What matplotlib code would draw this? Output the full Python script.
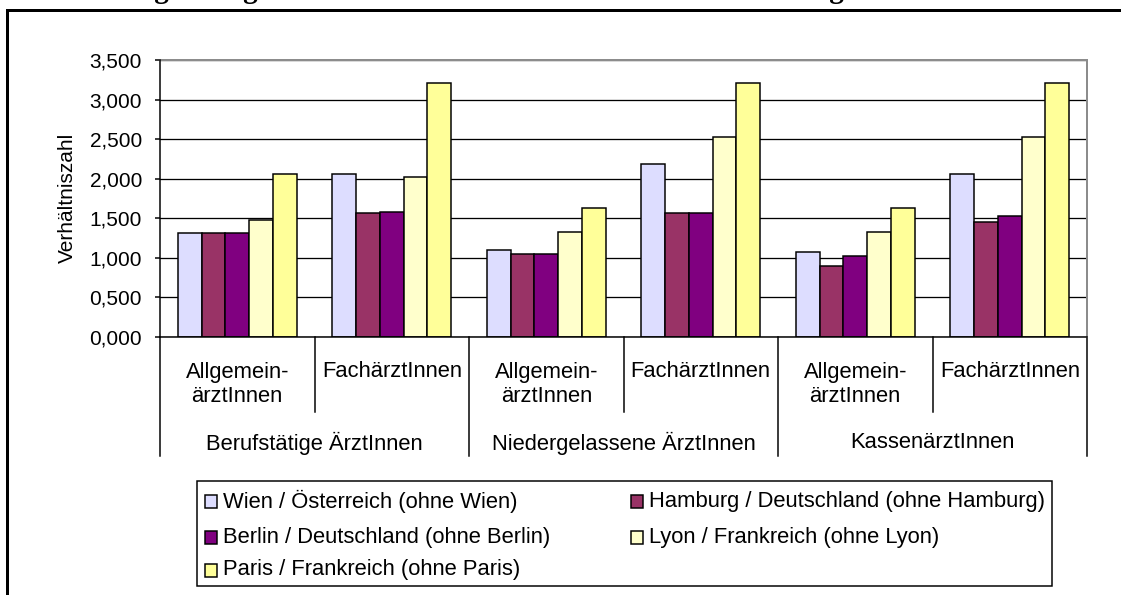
import matplotlib
matplotlib.use('Agg')
import matplotlib.pyplot as plt
import matplotlib.transforms as mtransforms
from matplotlib.patches import Rectangle

plt.rcParams['font.family'] = ['Liberation Sans', 'DejaVu Sans']

# data
sub_labels = ['Allgemein-\närztInnen', 'FachärztInnen'] * 3
main_labels = ['Berufstätige ÄrztInnen', 'Niedergelassene ÄrztInnen', 'KassenärztInnen']
series = [
    'Wien / Österreich (ohne Wien)',
    'Hamburg / Deutschland (ohne Hamburg)',
    'Berlin / Deutschland (ohne Berlin)',
    'Lyon / Frankreich (ohne Lyon)',
    'Paris / Frankreich (ohne Paris)',
]
colors = ['#DDDDFF', '#993366', '#800080', '#FFFFCC', '#FFFF99']
wien = [1.307, 2.058, 1.097, 2.190, 1.075, 2.060]
hamburg = [1.307, 1.560, 1.046, 1.560, 0.900, 1.455]
berlin = [1.307, 1.580, 1.046, 1.560, 1.025, 1.530]
lyon = [1.476, 2.016, 1.330, 2.520, 1.330, 2.520]
paris = [2.058, 3.205, 1.630, 3.205, 1.630, 3.205]
values = [wien, hamburg, berlin, lyon, paris]
yticks = [0, 0.5, 1.0, 1.5, 2.0, 2.5, 3.0, 3.5]
title = 'Abbildung 9: Allgemein- und FachärztInnen im Stadt/Staat-Vergleich'

W, H = 1121, 595
PX = 72 / 100  # points per pixel
FS = 15.8      # text size of labels and legend


def fx(x):
    return x / W


def fy(y):
    return 1 - y / H


fig = plt.figure(figsize=(W / 100, H / 100), dpi=100)

# outer chart frame (right and bottom run off the picture)
fig.patches.append(Rectangle((fx(6.5), fy(600)), fx(1200), fy(10) - fy(600),
                             transform=fig.transFigure, fill=False,
                             edgecolor='black', linewidth=3 * PX, clip_on=False))

# title, almost entirely cut off at the top like in the source
fig.text(fx(36), fy(-1.5), title, fontsize=21, fontweight='bold',
         family=['Liberation Serif', 'DejaVu Serif'], va='baseline', ha='left')

left, right, top, bottom = 160, 1087, 60, 336.7
ax = fig.add_axes([fx(left), fy(bottom), fx(right - left), fy(top) - fy(bottom)])

n = len(sub_labels)
w = 1 / 6.5
for j, vals in enumerate(values):
    xs = [i + w * (1.25 + j) for i in range(n)]
    ax.bar(xs, vals, width=w, color=colors[j], edgecolor='black',
           linewidth=1.5 * PX, zorder=3)

ax.set_xlim(0, n)
ax.set_ylim(0, 3.5)
ax.set_yticks(yticks)
ax.set_yticklabels([f'{v:.3f}'.replace('.', ',') for v in yticks], fontsize=15)
ax.tick_params(axis='y', length=5 * PX, width=1.5 * PX, pad=13 * PX, direction='out')
ax.set_xticks([])
ax.grid(axis='y', color='black', linewidth=1.3 * PX, zorder=1)
ax.set_axisbelow(True)
for s in ['left', 'bottom']:
    ax.spines[s].set_color('black')
    ax.spines[s].set_linewidth(1.5 * PX)
    ax.spines[s].set_zorder(4)
for s in ['top', 'right']:
    ax.spines[s].set_color('#8c8c8c')
    ax.spines[s].set_linewidth(2 * PX)

fig.text(fx(67), fy(198), 'Verhältniszahl', rotation=90, fontsize=15,
         ha='center', va='center')

# multi-level category axis
trans = mtransforms.blended_transform_factory(ax.transData, fig.transFigure)
for i in range(n + 1):
    end = 456 if i % 2 == 0 else 411.7
    ax.plot([i, i], [fy(bottom), fy(end)], transform=trans, color='black',
            linewidth=1.5 * PX, clip_on=False)
for i, lab in enumerate(sub_labels):
    yc = 384.9 if '\n' in lab else 371.7
    ax.text(i + 0.5, fy(yc), lab, transform=trans, ha='center', va='center',
            fontsize=FS, linespacing=1.2)
for k, lab in enumerate(main_labels):
    ax.text(2 * k + 1, fy(443), lab, transform=trans, ha='center', va='center',
            fontsize=FS)

# legend box, filled row by row
fig.patches.append(Rectangle((fx(197), fy(586)), fx(1052 - 197), fy(481) - fy(586),
                             transform=fig.transFigure, fill=False,
                             edgecolor='black', linewidth=1.5 * PX))
col_x = [205, 631]
row_y = [501.7, 537.3, 570]
for j, name in enumerate(series):
    cx, ry = col_x[j % 2], row_y[j // 2]
    fig.patches.append(Rectangle((fx(cx), fy(ry + 6.5)), fx(12), fy(ry - 6.5) - fy(ry + 6.5),
                                 transform=fig.transFigure, facecolor=colors[j],
                                 edgecolor='black', linewidth=1.5 * PX))
    fig.text(fx(cx + 18), fy(ry), name, fontsize=FS, ha='left', va='center')

fig.savefig('out.png', dpi=100)
